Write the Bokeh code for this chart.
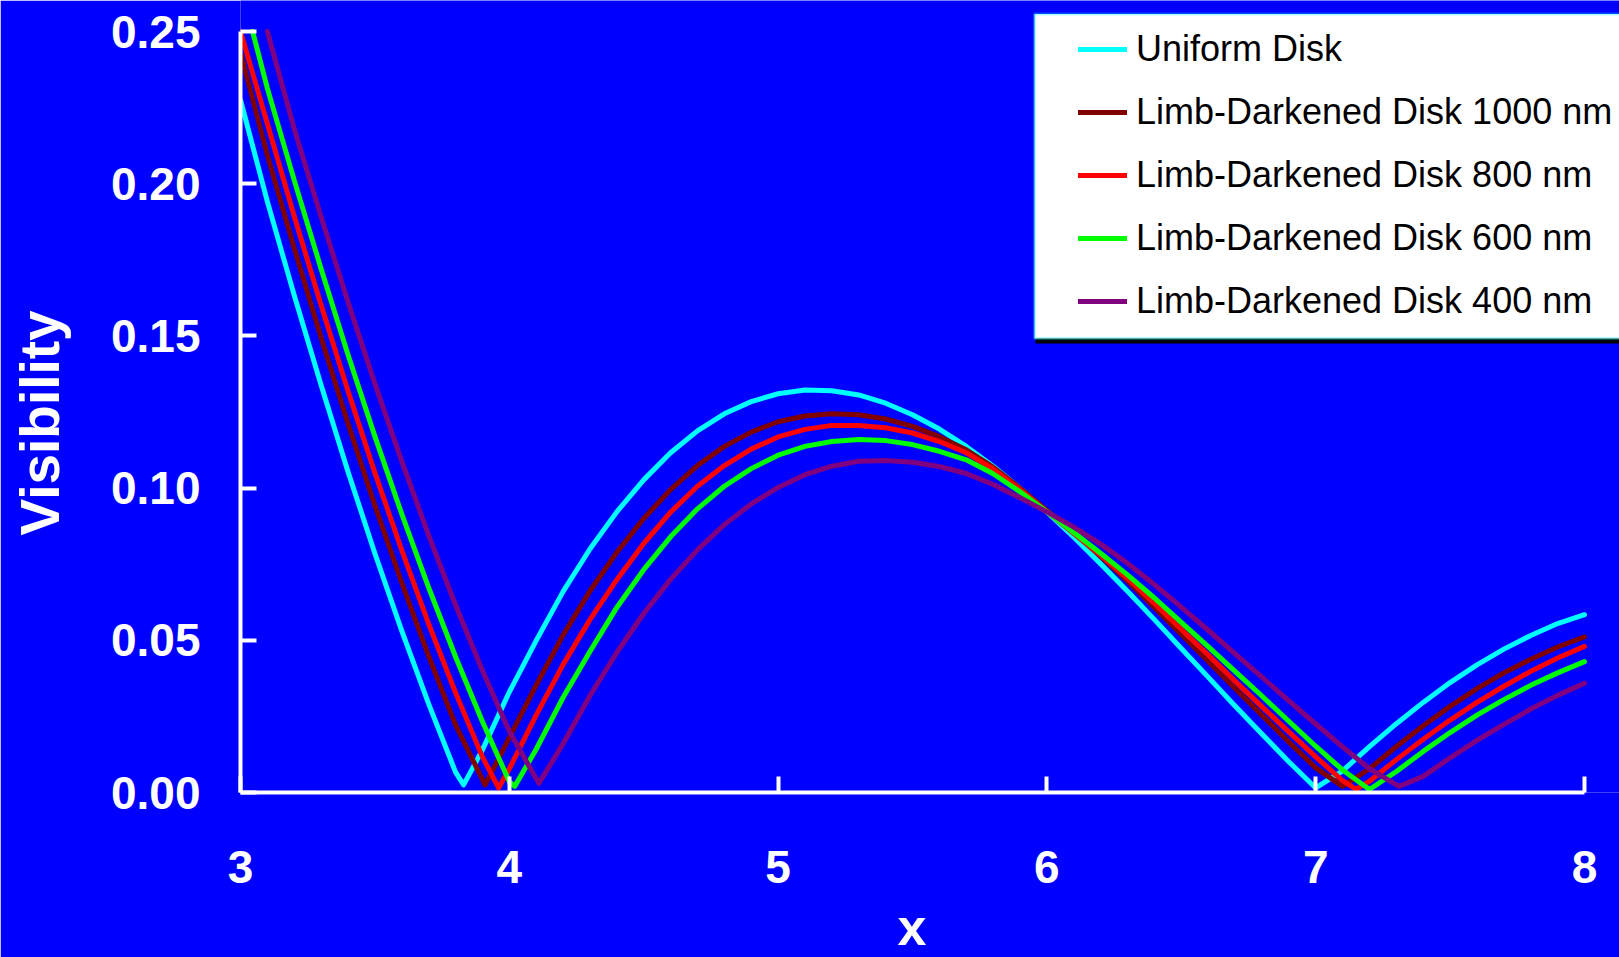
import math
from bokeh.plotting import figure
from bokeh.models import (Range1d, FixedTicker, NumeralTickFormatter, Legend, LegendItem,
                          BoxAnnotation, Title)
from bokeh.embed import file_html
from bokeh.resources import INLINE

# ---------------- data ----------------
x_ticks = [3, 4, 5, 6, 7, 8]
y_ticks = [0.0, 0.05, 0.10, 0.15, 0.20, 0.25]

series_names = ["Uniform Disk", "Limb-Darkened Disk 1000 nm", "Limb-Darkened Disk 800 nm",
                "Limb-Darkened Disk 600 nm", "Limb-Darkened Disk 400 nm"]
series_colors = ["#00FFFF", "#800000", "#FF0000", "#00FF00", "#800080"]

x_ud = [3.0, 3.1, 3.2, 3.3, 3.4, 3.5, 3.6, 3.7, 3.8, 3.83, 3.9,
        4.0, 4.1, 4.2, 4.3, 4.4, 4.5, 4.6, 4.7, 4.8, 4.9,
        5.0, 5.1, 5.2, 5.3, 5.4, 5.5, 5.6, 5.7, 5.8, 5.9,
        6.0, 6.1, 6.2, 6.3, 6.4, 6.5, 6.6, 6.7, 6.8, 6.9,
        7.0, 7.1, 7.2, 7.3, 7.4, 7.5, 7.6, 7.7, 7.8, 7.9, 8.0]
v_ud = [0.2275, 0.1941, 0.1633, 0.1338, 0.1054, 0.0785, 0.0531, 0.0291, 0.0067, 0.0025, 0.0140,
        0.0330, 0.0499, 0.0660, 0.0800, 0.0922, 0.1027, 0.1116, 0.1188, 0.1244, 0.1284,
        0.1310, 0.1322, 0.1320, 0.1306, 0.1279, 0.1241, 0.1194, 0.1137, 0.1072, 0.1000,
        0.0922, 0.0839, 0.0751, 0.0661, 0.0568, 0.0473, 0.0379, 0.0284, 0.0192, 0.0101,
        0.0015, 0.0071, 0.0151, 0.0226, 0.0296, 0.0361, 0.0419, 0.0471, 0.0516, 0.0555, 0.0584]

x_ld1000 = [3.0, 3.1, 3.2, 3.3, 3.4, 3.5, 3.6, 3.7, 3.8, 3.91,
            4.0, 4.1, 4.2, 4.3, 4.4, 4.5, 4.6, 4.7, 4.8, 4.9,
            5.0, 5.1, 5.2, 5.3, 5.4, 5.5, 5.6, 5.7, 5.8, 5.9,
            6.0, 6.1, 6.2, 6.3, 6.4, 6.5, 6.6, 6.7, 6.8, 6.9,
            7.0, 7.1, 7.2, 7.3, 7.4, 7.5, 7.6, 7.7, 7.8, 7.9, 8.0]
v_ld1000 = [0.2430, 0.2094, 0.1788, 0.1494, 0.1212, 0.0943, 0.0689, 0.0448, 0.0222, 0.0025,
            0.0180, 0.0353, 0.0517, 0.0662, 0.0789, 0.0900, 0.0995, 0.1074, 0.1137, 0.1184,
            0.1218, 0.1237, 0.1244, 0.1241, 0.1227, 0.1203, 0.1169, 0.1126, 0.1069, 0.1000,
            0.0926, 0.0854, 0.0776, 0.0695, 0.0608, 0.0520, 0.0431, 0.0342, 0.0254, 0.0166,
            0.0081, 0.0020, 0.0078, 0.0151, 0.0219, 0.0283, 0.0341, 0.0393, 0.0438, 0.0478, 0.0511]

x_ld800 = [3.0, 3.1, 3.2, 3.3, 3.4, 3.5, 3.6, 3.7, 3.8, 3.9, 3.96,
           4.0, 4.1, 4.2, 4.3, 4.4, 4.5, 4.6, 4.7, 4.8, 4.9,
           5.0, 5.1, 5.2, 5.3, 5.4, 5.5, 5.6, 5.7, 5.8, 5.9,
           6.0, 6.1, 6.2, 6.3, 6.4, 6.5, 6.6, 6.7, 6.8, 6.9,
           7.0, 7.1, 7.15, 7.2, 7.3, 7.4, 7.5, 7.6, 7.7, 7.8, 7.9, 8.0]
v_ld800 = [0.2500, 0.2197, 0.1893, 0.1601, 0.1319, 0.1050, 0.0796, 0.0554, 0.0328, 0.0117, 0.0015,
           0.0078, 0.0254, 0.0420, 0.0568, 0.0699, 0.0818, 0.0921, 0.1006, 0.1074, 0.1128,
           0.1168, 0.1193, 0.1206, 0.1206, 0.1198, 0.1181, 0.1153, 0.1116, 0.1063, 0.0995,
           0.0923, 0.0851, 0.0779, 0.0703, 0.0621, 0.0536, 0.0452, 0.0366, 0.0282, 0.0199,
           0.0117, 0.0039, 0.0010, 0.0037, 0.0108, 0.0175, 0.0238, 0.0296, 0.0349, 0.0398, 0.0442,
           0.0480]

x_ld600 = [3.045, 3.1, 3.2, 3.3, 3.4, 3.5, 3.6, 3.7, 3.8, 3.9,
           4.0, 4.02, 4.1, 4.2, 4.3, 4.4, 4.5, 4.6, 4.7, 4.8, 4.9,
           5.0, 5.1, 5.2, 5.3, 5.4, 5.5, 5.6, 5.7, 5.8, 5.9,
           6.0, 6.1, 6.2, 6.3, 6.4, 6.5, 6.6, 6.7, 6.8, 6.9,
           7.0, 7.1, 7.2, 7.3, 7.4, 7.5, 7.6, 7.7, 7.8, 7.9, 8.0]
v_ld600 = [0.2500, 0.2313, 0.2011, 0.1720, 0.1438, 0.1170, 0.0915, 0.0673, 0.0446, 0.0233,
           0.0036, 0.0020, 0.0142, 0.0312, 0.0463, 0.0608, 0.0732, 0.0840, 0.0932, 0.1006, 0.1064,
           0.1108, 0.1137, 0.1153, 0.1160, 0.1156, 0.1143, 0.1121, 0.1093, 0.1047, 0.0988,
           0.0922, 0.0854, 0.0786, 0.0715, 0.0639, 0.0559, 0.0479, 0.0398, 0.0317, 0.0234,
           0.0152, 0.0074, 0.0010, 0.0069, 0.0135, 0.0197, 0.0254, 0.0305, 0.0352, 0.0393, 0.0430]

x_ld400 = [3.1, 3.2, 3.3, 3.4, 3.5, 3.6, 3.7, 3.8, 3.9,
           4.0, 4.11, 4.2, 4.3, 4.4, 4.5, 4.6, 4.7, 4.8, 4.9,
           5.0, 5.1, 5.2, 5.3, 5.4, 5.5, 5.6, 5.7, 5.8, 5.9,
           6.0, 6.1, 6.2, 6.3, 6.4, 6.5, 6.6, 6.7, 6.8, 6.9,
           7.0, 7.1, 7.2, 7.31, 7.4, 7.5, 7.6, 7.7, 7.8, 7.9, 8.0]
v_ld400 = [0.2500, 0.2180, 0.1891, 0.1611, 0.1343, 0.1088, 0.0845, 0.0616, 0.0401,
           0.0201, 0.0030, 0.0160, 0.0318, 0.0460, 0.0588, 0.0700, 0.0797, 0.0880, 0.0948,
           0.1002, 0.1044, 0.1072, 0.1088, 0.1091, 0.1085, 0.1071, 0.1048, 0.1012, 0.0968,
           0.0922, 0.0872, 0.0816, 0.0753, 0.0683, 0.0609, 0.0533, 0.0455, 0.0379, 0.0301,
           0.0225, 0.0150, 0.0078, 0.0020, 0.0053, 0.0114, 0.0171, 0.0224, 0.0274, 0.0319, 0.0359]

series_x = [x_ud, x_ld1000, x_ld800, x_ld600, x_ld400]
series_v = [v_ud, v_ld1000, v_ld800, v_ld600, v_ld400]

# ---------------- layout ----------------
W, H = 1619, 957
AX_L, AX_R, AX_T, AX_B = 240, 1584, 31, 792        # pixel box of the axes (x 3..8, y 0..0.25)
X0, X1, Y0, Y1 = 3, 8, 0.0, 0.25
x_end = X1 + (W - AX_R) * (X1 - X0) / (AX_R - AX_L)   # frame runs to the right edge
y_end = Y1 + AX_T * (Y1 - Y0) / (AX_B - AX_T)         # frame runs to the top edge

BG = "#0000FF"
FONT = "Liberation Sans"

p = figure(width=W, height=H, output_backend="svg", toolbar_location=None, title=None,
           x_range=Range1d(X0, x_end), y_range=Range1d(Y0, y_end),
           min_border_left=AX_L, min_border_right=0, min_border_top=0,
           min_border_bottom=H - AX_B)
p.background_fill_color = BG
p.border_fill_color = BG
p.outline_line_color = None
p.grid.visible = False

p.xaxis.ticker = FixedTicker(ticks=x_ticks)
p.yaxis.ticker = FixedTicker(ticks=y_ticks)
p.yaxis.formatter = NumeralTickFormatter(format="0.00")
p.xaxis.bounds = (X0, X1)
p.yaxis.bounds = (Y0, Y1)
for ax in p.axis:
    ax.axis_line_color = "white"
    ax.axis_line_width = 4
    ax.major_tick_line_color = "white"
    ax.major_tick_line_width = 4
    ax.major_tick_in = 16
    ax.major_tick_out = 0
    ax.minor_tick_line_color = None
    ax.major_label_text_color = "white"
    ax.major_label_text_font = FONT
    ax.major_label_text_font_style = "bold"
    ax.major_label_text_font_size = "46px"
p.yaxis.major_label_standoff = 40
p.xaxis.major_label_standoff = 58

# axis titles as panel titles (positioned along their side)
ytitle = Title(text="Visibility", align="left", offset=AX_B - 535, vertical_align="bottom",
               standoff=0, text_font=FONT, text_font_size="55px", text_font_style="bold",
               text_color="white")
p.add_layout(ytitle, "left")
xtitle = Title(text="x", align="left", offset=657, vertical_align="top",
               standoff=0, text_font=FONT, text_font_size="52px", text_font_style="bold",
               text_color="white")
p.add_layout(xtitle, "below")
try:
    ytitle.padding = dict(left=0, right=0, top=0, bottom=37)
except Exception:
    ytitle.standoff = 10
try:
    xtitle.padding = dict(left=0, right=0, top=12, bottom=0)
except Exception:
    xtitle.standoff = 12

renderers = []
for xs, vs, c in zip(series_x, series_v, series_colors):
    r = p.line(xs, vs, line_color=c, line_width=5, line_join="round", line_cap="round")
    renderers.append(r)

# legend box (white, cyan frame, black shadow) -- screen units from the frame's bottom-left
shadow = BoxAnnotation(left=795, right=1500, top=772, bottom=449,
                       left_units="screen", right_units="screen", top_units="screen",
                       bottom_units="screen", fill_color="black", fill_alpha=1.0, line_color=None)
box = BoxAnnotation(left=794, right=1500, top=778.5, bottom=454,
                    left_units="screen", right_units="screen", top_units="screen",
                    bottom_units="screen", fill_color="white", fill_alpha=1.0,
                    line_color="#00FFFF", line_width=3)
p.add_layout(shadow)
p.add_layout(box)

legend = Legend(items=[LegendItem(label=n, renderers=[r]) for n, r in zip(series_names, renderers)],
                location=(838, 470), padding=0, margin=0, spacing=21,
                glyph_width=49, glyph_height=40, label_height=40, label_standoff=9,
                label_text_font=FONT, label_text_font_size="36px", label_text_color="black",
                border_line_color=None, background_fill_alpha=0.0)
p.add_layout(legend)

open("out.html", "w").write(file_html(p, INLINE))
